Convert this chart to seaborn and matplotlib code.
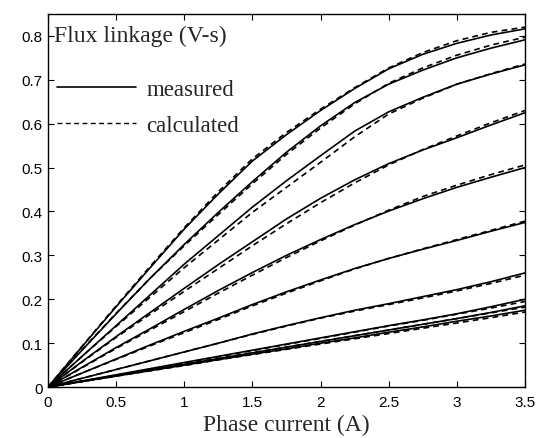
import numpy as np
import pandas as pd
import matplotlib
matplotlib.use("Agg")
import matplotlib.pyplot as plt
import seaborn as sns
from matplotlib.lines import Line2D

# phase current samples (A)
current = [0, 0.25, 0.5, 0.75, 1.0, 1.25, 1.5, 1.75, 2.0, 2.25, 2.5, 2.75, 3.0, 3.25, 3.5]

# measured flux linkage (V-s), one list per rotor position, top to bottom
meas_1 = [0, 0.092, 0.183, 0.272, 0.36, 0.44, 0.515, 0.575, 0.63, 0.68, 0.725, 0.758, 0.783, 0.802, 0.816]
meas_2 = [0, 0.084, 0.167, 0.248, 0.325, 0.398, 0.468, 0.535, 0.595, 0.648, 0.69, 0.722, 0.75, 0.772, 0.791]
meas_3 = [0, 0.07, 0.14, 0.21, 0.28, 0.345, 0.41, 0.47, 0.527, 0.583, 0.627, 0.66, 0.69, 0.713, 0.734]
meas_4 = [0, 0.058, 0.115, 0.17, 0.225, 0.279, 0.331, 0.383, 0.43, 0.472, 0.509, 0.54, 0.568, 0.597, 0.625]
meas_5 = [0, 0.045, 0.09, 0.133, 0.177, 0.22, 0.261, 0.3, 0.336, 0.37, 0.401, 0.429, 0.455, 0.478, 0.50]
meas_6 = [0, 0.032, 0.064, 0.096, 0.127, 0.157, 0.188, 0.217, 0.244, 0.27, 0.293, 0.314, 0.334, 0.355, 0.375]
meas_7 = [0, 0.02, 0.04, 0.06, 0.08, 0.1, 0.121, 0.14, 0.158, 0.175, 0.19, 0.206, 0.222, 0.24, 0.26]
meas_8 = [0, 0.014, 0.028, 0.042, 0.056, 0.07, 0.084, 0.098, 0.112, 0.126, 0.14, 0.153, 0.167, 0.183, 0.20]
meas_9 = [0, 0.013, 0.026, 0.039, 0.052, 0.065, 0.078, 0.091, 0.104, 0.117, 0.13, 0.143, 0.156, 0.17, 0.185]
meas_10 = [0, 0.0125, 0.025, 0.0375, 0.05, 0.0625, 0.075, 0.087, 0.1, 0.112, 0.125, 0.137, 0.15, 0.162, 0.175]

# calculated flux linkage (V-s)
calc_1 = [0, 0.093, 0.185, 0.275, 0.363, 0.445, 0.52, 0.58, 0.633, 0.682, 0.727, 0.762, 0.789, 0.808, 0.82]
calc_2 = [0, 0.085, 0.168, 0.248, 0.322, 0.393, 0.463, 0.53, 0.59, 0.645, 0.692, 0.727, 0.756, 0.779, 0.797]
calc_3 = [0, 0.07, 0.138, 0.205, 0.272, 0.335, 0.398, 0.455, 0.512, 0.57, 0.622, 0.658, 0.69, 0.714, 0.736]
calc_4 = [0, 0.057, 0.113, 0.166, 0.218, 0.27, 0.322, 0.372, 0.42, 0.465, 0.506, 0.541, 0.572, 0.602, 0.63]
calc_5 = [0, 0.044, 0.088, 0.13, 0.172, 0.214, 0.255, 0.295, 0.333, 0.369, 0.403, 0.434, 0.46, 0.484, 0.506]
calc_6 = [0, 0.032, 0.063, 0.094, 0.124, 0.154, 0.185, 0.214, 0.242, 0.269, 0.293, 0.315, 0.336, 0.357, 0.378]
calc_7 = [0, 0.02, 0.04, 0.06, 0.08, 0.1, 0.12, 0.139, 0.157, 0.173, 0.188, 0.203, 0.219, 0.236, 0.255]
calc_8 = [0, 0.0135, 0.027, 0.041, 0.055, 0.069, 0.083, 0.097, 0.111, 0.125, 0.139, 0.152, 0.166, 0.18, 0.195]
calc_9 = [0, 0.013, 0.026, 0.039, 0.052, 0.065, 0.078, 0.091, 0.104, 0.117, 0.13, 0.143, 0.156, 0.169, 0.182]
calc_10 = [0, 0.0125, 0.025, 0.037, 0.049, 0.062, 0.074, 0.086, 0.098, 0.11, 0.122, 0.134, 0.146, 0.158, 0.171]

measured = [meas_1, meas_2, meas_3, meas_4, meas_5, meas_6, meas_7, meas_8, meas_9, meas_10]
calculated = [calc_1, calc_2, calc_3, calc_4, calc_5, calc_6, calc_7, calc_8, calc_9, calc_10]

x_ticks = [0, 0.5, 1, 1.5, 2, 2.5, 3, 3.5]
y_ticks = [0, 0.1, 0.2, 0.3, 0.4, 0.5, 0.6, 0.7, 0.8]

rows = []
for idx, (m, c) in enumerate(zip(measured, calculated)):
    for xi, mi, ci in zip(current, m, c):
        rows.append({"current": xi, "flux": mi, "kind": "measured", "curve": f"m{idx}"})
        rows.append({"current": xi, "flux": ci, "kind": "calculated", "curve": f"c{idx}"})
df = pd.DataFrame(rows)

sns.set_style("ticks")
plt.rcParams["font.family"] = ["Liberation Sans", "DejaVu Sans"]
serif = ["Liberation Serif", "DejaVu Serif"]

fig = plt.figure(figsize=(5.39, 4.39), dpi=100)
ax = fig.add_axes([0.089, 0.116, 0.885, 0.85])

sns.lineplot(
    data=df, x="current", y="flux", units="curve", style="kind",
    estimator=None, color="black", ax=ax, legend=False,
    dashes={"measured": "", "calculated": (3.5, 2.5)},
    linewidth=1.2,
)

ax.set_xlim(0, 3.5)
ax.set_ylim(0, 0.85)
ax.set_xticks(x_ticks)
ax.set_xticklabels([f"{t:g}" for t in x_ticks])
ax.set_yticks(y_ticks)
ax.set_yticklabels([f"{t:g}" for t in y_ticks])
ax.tick_params(direction="in", top=True, right=True, length=4, width=0.8,
               labelsize=11, colors="black")
ax.tick_params(axis="x", pad=6)
ax.tick_params(axis="y", pad=4)
for s in ax.spines.values():
    s.set_visible(True)
    s.set_linewidth(1.0)
    s.set_color("black")

ax.set_xlabel("Phase current (A)", family=serif, fontsize=17, labelpad=3)
ax.set_ylabel("")
ax.text(0.012, 0.942, "Flux linkage (V-s)", transform=ax.transAxes,
        family=serif, fontsize=17, ha="left", va="center")

handles = [
    Line2D([], [], color="black", lw=1.2, ls="-"),
    Line2D([], [], color="black", lw=1.0, ls=(0, (3.5, 2.5))),
]
ax.legend(handles, ["measured", "calculated"], loc="upper left",
          bbox_to_anchor=(0.0, 0.851), borderaxespad=0, frameon=False,
          handlelength=3.45, handletextpad=0.44, labelspacing=0.68,
          prop={"family": serif, "size": 16.5})

fig.savefig("out.png", dpi=100)
